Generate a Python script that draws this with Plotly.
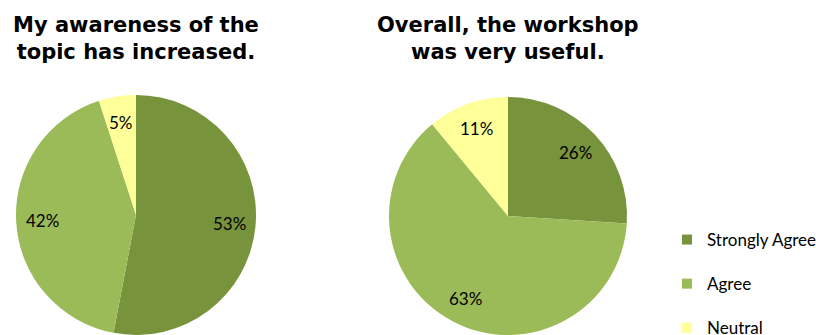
import math
import plotly.graph_objects as go

labels = ["Strongly Agree", "Agree", "Neutral"]
colors = ["#77933C", "#9BBB59", "#FFFF99"]
awareness = [53, 42, 5]
useful = [26, 63, 11]
titles = ["My awareness of the<br>topic has increased.", "Overall, the workshop<br>was very useful."]

W, H = 816, 335
fig = go.Figure()

label_font = dict(family="Lato, Carlito, Liberation Sans, sans-serif", size=17, color="#000000")

# pie boxes in pixels (left, right, top) -> domains
pies = [
    (awareness, 15, 257, 95, titles[0]),
    (useful, 388, 628, 97, titles[1]),
]
title_font = dict(family="Verdana, DejaVu Sans, sans-serif", size=21, color="#000000")

for vals, x0, x1, top, title in pies:
    dom_x = [x0 / W, x1 / W]
    dom_y = [0, (H - top) / H]
    fig.add_trace(go.Pie(
        labels=labels, values=vals, sort=False, direction="clockwise", rotation=0,
        marker=dict(colors=colors), textinfo="none",
        showlegend=False, hoverinfo="label+value",
        domain=dict(x=dom_x, y=dom_y),
    ))
    # pie geometry as plotly computes it
    cx = (x0 + x1) / 2
    R = min(x1 - x0, H - top) / 2
    cy = top + R
    total = sum(vals)
    start = 0.0
    for v in vals:
        mid = (start + v / 2) / total * 2 * math.pi
        start += v
        rr = 0.78 * R
        px = cx + rr * math.sin(mid)
        py = cy - rr * math.cos(mid)
        fig.add_annotation(text=f"{v}%", x=px / W, y=1 - py / H, xref="paper", yref="paper",
                           xanchor="center", yanchor="middle", showarrow=False, font=label_font)
    fig.add_annotation(text=f"<b>{title}</b>", x=cx / W, y=1 - 38.5 / H, xref="paper", yref="paper",
                       xanchor="center", yanchor="middle", showarrow=False, font=title_font)

# legend proxies
for i, (lab, col) in enumerate(zip(labels, colors)):
    fig.add_trace(go.Scatter(
        x=[None], y=[None], mode="markers", name=lab,
        marker=dict(symbol="square", size=10, color=col),
        legendgroup=f"g{i}", showlegend=True,
    ))

fig.update_layout(
    width=W, height=H, margin=dict(l=0, r=0, t=0, b=0, autoexpand=False),
    paper_bgcolor="white", plot_bgcolor="white",
    xaxis=dict(visible=False), yaxis=dict(visible=False),
    legend=dict(x=667 / W, y=1 - 222 / H, xanchor="left", yanchor="top",
                font=dict(family="Lato, Carlito, Liberation Sans, sans-serif", size=17, color="#000000"),
                tracegroupgap=19, itemwidth=30),
)
fig.write_html("out.html")
